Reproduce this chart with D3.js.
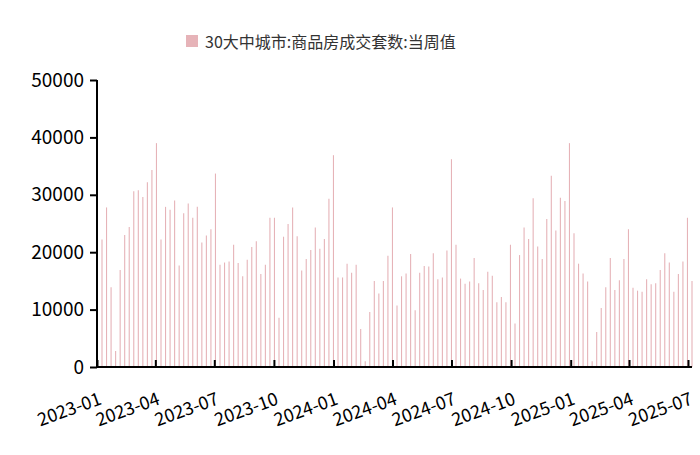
<!DOCTYPE html>
<html><head><meta charset="utf-8">
<script src="https://cdn.jsdelivr.net/npm/d3@7"></script>
<style>body{margin:0;background:#fff}</style>
</head><body>
<svg id="chart" width="700" height="455"></svg>
<script>
// weekly values
const values = [
  22200,27800,13900,2800,16900,23000,24400,30600,30800,29600,32200,34300,39000,22200,27900,27400,
  29000,17700,26800,28500,26000,27900,21700,22900,24000,33700,17800,18200,18400,21300,18100,15800,
  18700,20900,21900,16200,17800,26000,26000,8600,22700,24900,27800,22800,
  16800,18800,20400,24300,20600,22300,29300,36900,15600,15600,18000,16400,17800,6600,1000,9600,
  15000,12800,15000,19400,27800,10700,15800,16300,19700,9900,16400,17600,17500,19800,15300,15600,
  20300,36200,21300,15400,14500,14900,19000,14600,13400,16600,15900,11300,
  12200,11300,21300,7600,19500,24300,22300,29400,21000,18800,25800,33300,23800,29500,28900,39000,
  23300,18000,16300,14900,1000,6100,10300,13900,19000,13400,15100,18800,24000,13800,13300,13100,
  15300,14400,14600,16900,19800,18200,13100,16200,18400,26000,15000
];
const tickLabels = ["2023-01","2023-04","2023-07","2023-10","2024-01","2024-04","2024-07","2024-10","2025-01","2025-04","2025-07"];
const yTicks = [0,10000,20000,30000,40000,50000];
const legendLabel = "30大中城市:商品房成交套数:当周值";

const svg = d3.select("#chart");
const font = "'Noto Sans CJK SC', 'Liberation Sans', sans-serif";
const barColor = "#e6b3b8";

const y = d3.scaleLinear().domain([0, 50000]).range([367, 80]);
const xi = d3.scaleLinear().domain([0, values.length - 1]).range([102, 692]);
const parse = d3.timeParse("%Y-%m");
const xt = d3.scaleTime().domain([parse(tickLabels[0]), parse(tickLabels[tickLabels.length - 1])]).range([97, 688]);

// bars
svg.selectAll(".bar").data(values).enter().append("line")
  .attr("x1", (d, i) => xi(i)).attr("x2", (d, i) => xi(i))
  .attr("y1", y(0)).attr("y2", d => y(d))
  .attr("stroke", barColor).attr("stroke-width", 1.1);

// y axis
const yAxis = svg.append("g").attr("transform", "translate(97,0)")
  .call(d3.axisLeft(y).tickValues(yTicks).tickSize(7).tickPadding(6).tickFormat(d3.format("d")));
yAxis.selectAll("path,line").attr("stroke", "#000").attr("stroke-width", 2);
yAxis.select(".domain").attr("d", "M0,80V367");
yAxis.selectAll("text").attr("font-family", font).attr("font-size", 19).attr("fill", "#000");

// x axis
const xAxis = svg.append("g").attr("transform", "translate(0,367)")
  .call(d3.axisBottom(xt).tickValues(tickLabels.map(parse)).tickSize(-7).tickFormat(d3.timeFormat("%Y-%m")));
xAxis.selectAll("path,line").attr("stroke", "#000").attr("stroke-width", 2);
xAxis.select(".domain").attr("d", "M97,0H692");
xAxis.selectAll("text").attr("font-family", font).attr("font-size", 18).attr("fill", "#000")
  .attr("text-anchor", "end").attr("transform", "translate(4,34) rotate(-20)").attr("dy", "0");

// legend
svg.append("rect").attr("x", 186).attr("y", 35).attr("width", 12).attr("height", 12).attr("fill", barColor);
svg.append("text").attr("x", 205).attr("y", 48).attr("font-family", font).attr("font-size", 16)
  .attr("fill", "#333").text(legendLabel);
</script>
</body></html>
